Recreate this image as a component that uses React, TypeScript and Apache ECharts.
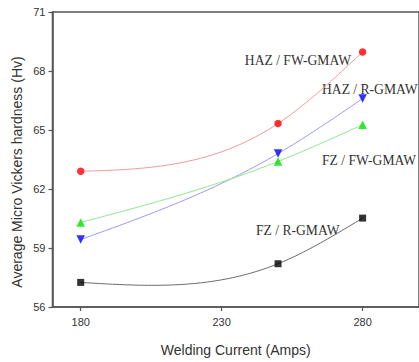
import React, { useEffect, useRef } from "react";
import * as echarts from "echarts";

// Welding current (A) at which hardness was measured
const currents = [180, 250, 280];

// Average micro Vickers hardness (Hv) per zone / process
const hazFw = [62.9, 65.33, 68.97];
const hazR = [59.43, 63.8, 66.6];
const fzFw = [60.3, 63.4, 65.27];
const fzR = [57.25, 58.2, 60.52];

const xTicks = [180, 230, 280];
const yTicks = [56, 59, 62, 65, 68, 71];

// Natural cubic spline through the measured points
function splineSecondDerivs(xs: number[], ys: number[]): number[] {
  const n = xs.length;
  const m = new Array(n).fill(0);
  if (n < 3) return m;
  const a: number[] = [], b: number[] = [], c: number[] = [], d: number[] = [];
  for (let i = 1; i < n - 1; i++) {
    const h0 = xs[i] - xs[i - 1];
    const h1 = xs[i + 1] - xs[i];
    a.push(h0);
    b.push(2 * (h0 + h1));
    c.push(h1);
    d.push(6 * ((ys[i + 1] - ys[i]) / h1 - (ys[i] - ys[i - 1]) / h0));
  }
  const k = b.length;
  for (let i = 1; i < k; i++) {
    const w = a[i] / b[i - 1];
    b[i] -= w * c[i - 1];
    d[i] -= w * d[i - 1];
  }
  const sol = new Array(k).fill(0);
  sol[k - 1] = d[k - 1] / b[k - 1];
  for (let i = k - 2; i >= 0; i--) sol[i] = (d[i] - c[i] * sol[i + 1]) / b[i];
  for (let i = 0; i < k; i++) m[i + 1] = sol[i];
  return m;
}

function splineAt(xs: number[], ys: number[], m: number[], x: number): number {
  let i = 0;
  while (i < xs.length - 2 && x > xs[i + 1]) i++;
  const h = xs[i + 1] - xs[i];
  const A = (xs[i + 1] - x) / h;
  const B = (x - xs[i]) / h;
  return (
    A * ys[i] +
    B * ys[i + 1] +
    ((A * A * A - A) * m[i] + (B * B * B - B) * m[i + 1]) * (h * h) / 6
  );
}

function curveSeries(values: number[], color: string) {
  const m = splineSecondDerivs(currents, values);
  return {
    type: "custom",
    data: [[currents[0], values[0]]],
    silent: true,
    z: 1,
    renderItem: (_params: any, api: any) => {
      const lo = currents[0];
      const hi = currents[currents.length - 1];
      const steps = 80;
      const points: number[][] = [];
      for (let k = 0; k <= steps; k++) {
        const x = lo + ((hi - lo) * k) / steps;
        points.push(api.coord([x, splineAt(currents, values, m, x)]));
      }
      return {
        type: "polyline",
        shape: { points },
        style: { stroke: color, lineWidth: 1, fill: null },
      };
    },
  };
}

function markerSeries(values: number[], color: string, symbol: string, size: number, rotate = 0) {
  return {
    type: "scatter",
    data: currents.map((c, i) => [c, values[i]]),
    symbol,
    symbolSize: size,
    symbolRotate: rotate,
    itemStyle: { color },
    z: 3,
  };
}

export default function App() {
  const ref = useRef<HTMLDivElement>(null);

  useEffect(() => {
    if (!ref.current) return;
    const chart = echarts.init(ref.current, null, { renderer: "svg" });
    const axisColor = "#555";
    const textColor = "#333";
    const serif = "'Liberation Serif', 'Times New Roman', serif";
    const sans = "'Liberation Sans', Arial, sans-serif";
    chart.setOption({
      animation: false,
      backgroundColor: "#fff",
      grid: {
        left: 52.5,
        right: -3.5,
        top: 12,
        bottom: 50,
        show: true,
        borderColor: axisColor,
        borderWidth: 1.5,
        containLabel: false,
      },
      xAxis: {
        type: "value",
        min: 170,
        max: 300,
        name: "Welding Current (Amps)",
        nameLocation: "middle",
        nameGap: 36,
        nameTextStyle: { fontFamily: sans, fontSize: 14, color: textColor },
        splitLine: { show: false },
        axisLine: { lineStyle: { color: axisColor, width: 1.5 } },
        axisTick: { customValues: xTicks, length: 4, lineStyle: { color: axisColor, width: 1.2 } },
        axisLabel: { customValues: xTicks, margin: 9, fontFamily: sans, fontSize: 11, color: textColor },
      },
      yAxis: {
        type: "value",
        min: 56,
        max: 71,
        splitLine: { show: false },
        axisLine: { lineStyle: { color: axisColor, width: 1.5 } },
        axisTick: { customValues: yTicks, length: 4, lineStyle: { color: axisColor, width: 1.2 } },
        axisLabel: { customValues: yTicks, margin: 7, fontFamily: sans, fontSize: 11, color: textColor },
      },
      graphic: [
        {
          type: "text",
          x: 17,
          y: 172,
          rotation: Math.PI / 2,
          style: {
            text: "Average Micro Vickers hardness (Hv)",
            fontFamily: sans,
            fontSize: 14,
            fill: textColor,
            align: "center",
            verticalAlign: "middle",
          },
        },
        {
          type: "text",
          x: 351,
          y: 60,
          style: { text: "HAZ / FW-GMAW", fontFamily: serif, fontSize: 13.6, fill: textColor, align: "right", verticalAlign: "middle" },
        },
        {
          type: "text",
          x: 322,
          y: 89,
          style: { text: "HAZ / R-GMAW", fontFamily: serif, fontSize: 13.6, fill: textColor, align: "left", verticalAlign: "middle" },
        },
        {
          type: "text",
          x: 322,
          y: 160,
          style: { text: "FZ / FW-GMAW", fontFamily: serif, fontSize: 13.6, fill: textColor, align: "left", verticalAlign: "middle" },
        },
        {
          type: "text",
          x: 256,
          y: 230,
          style: { text: "FZ / R-GMAW", fontFamily: serif, fontSize: 13.6, fill: textColor, align: "left", verticalAlign: "middle" },
        },
      ],
      series: [
        curveSeries(hazFw, "#f29a9a"),
        curveSeries(hazR, "#9a9af2"),
        curveSeries(fzFw, "#8fe88f"),
        curveSeries(fzR, "#6a6a6a"),
        markerSeries(hazFw, "#ff0000", "circle", 7.5),
        markerSeries(hazR, "#0000ff", "triangle", 8.5, 180),
        markerSeries(fzFw, "#00e000", "triangle", 8.5),
        markerSeries(fzR, "#000000", "rect", 7),
      ],
    });
    return () => chart.dispose();
  }, []);

  return (
    <div
      ref={ref}
      style={{ position: "absolute", left: 0, top: 0, width: 419, height: 362 }}
    />
  );
}
